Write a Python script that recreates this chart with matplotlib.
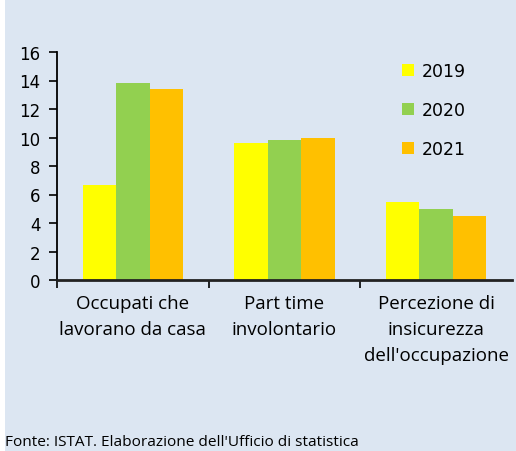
import numpy as np
import matplotlib.pyplot as plt
from matplotlib.patches import Rectangle

categories = ["Occupati che\nlavorano da casa", "Part time\ninvolontario",
              "Percezione di\ninsicurezza\ndell'occupazione"]
years = ["2019", "2020", "2021"]
v2019 = [6.7, 9.6, 5.45]
v2020 = [13.8, 9.8, 4.95]
v2021 = [13.4, 10.0, 4.5]
colors = ["#FFFF00", "#92D050", "#FFC000"]
yticks = [0, 2, 4, 6, 8, 10, 12, 14, 16]

bg = "#DCE6F2"
fig = plt.figure(figsize=(5.16, 4.52), dpi=100, facecolor="white")
fig.patches.append(Rectangle((5 / 516, 0), 1, 1, transform=fig.transFigure,
                             facecolor=bg, edgecolor="none", zorder=-10))

ax = fig.add_axes([57 / 516, 1 - 281 / 452, 455 / 516, 228 / 452])
ax.set_facecolor("none")

x = np.arange(len(categories)) + 0.5
w = 0.22
for i, (vals, lab) in enumerate(zip([v2019, v2020, v2021], years)):
    ax.bar(x + (i - 1) * w, vals, width=w, color=colors[i], label=lab,
           edgecolor="none", zorder=2)

ax.set_xlim(0, 3)
ax.set_ylim(0, 16)
ax.set_yticks(yticks)
ax.set_yticklabels([str(t) for t in yticks], fontsize=12,
                   family="DejaVu Sans")
ax.set_xticks([0, 1, 2])
ax.set_xticklabels([])
ax.set_xticks(x, minor=True)
ax.set_xticklabels(categories, minor=True, fontsize=13.5, family="Open Sans",
                   linespacing=1.57)
ax.tick_params(axis="x", which="minor", length=0, pad=10)
ax.tick_params(axis="x", which="major", length=6, width=1.2, direction="out")
ax.tick_params(axis="y", length=6, width=1.2, pad=6, colors="black")

for s in ["top", "right"]:
    ax.spines[s].set_visible(False)
ax.spines["left"].set_linewidth(1.3)
ax.spines["bottom"].set_linewidth(2)
ax.spines["bottom"].set_color("#222222")

leg = ax.legend(loc="center left", bbox_to_anchor=(402 / 516, 1 - 111 / 452),
                bbox_transform=fig.transFigure, frameon=False,
                prop={"family": "DejaVu Sans", "size": 12.5},
                handlelength=0.7, handleheight=0.7, handletextpad=0.45,
                labelspacing=1.2, borderpad=0, borderaxespad=0)

fig.text(5 / 516, 2 / 452, "Fonte: ISTAT. Elaborazione dell'Ufficio di statistica",
         fontsize=11.1, family="Open Sans", ha="left", va="bottom")

fig.savefig("out.png", dpi=100, facecolor=fig.get_facecolor())
